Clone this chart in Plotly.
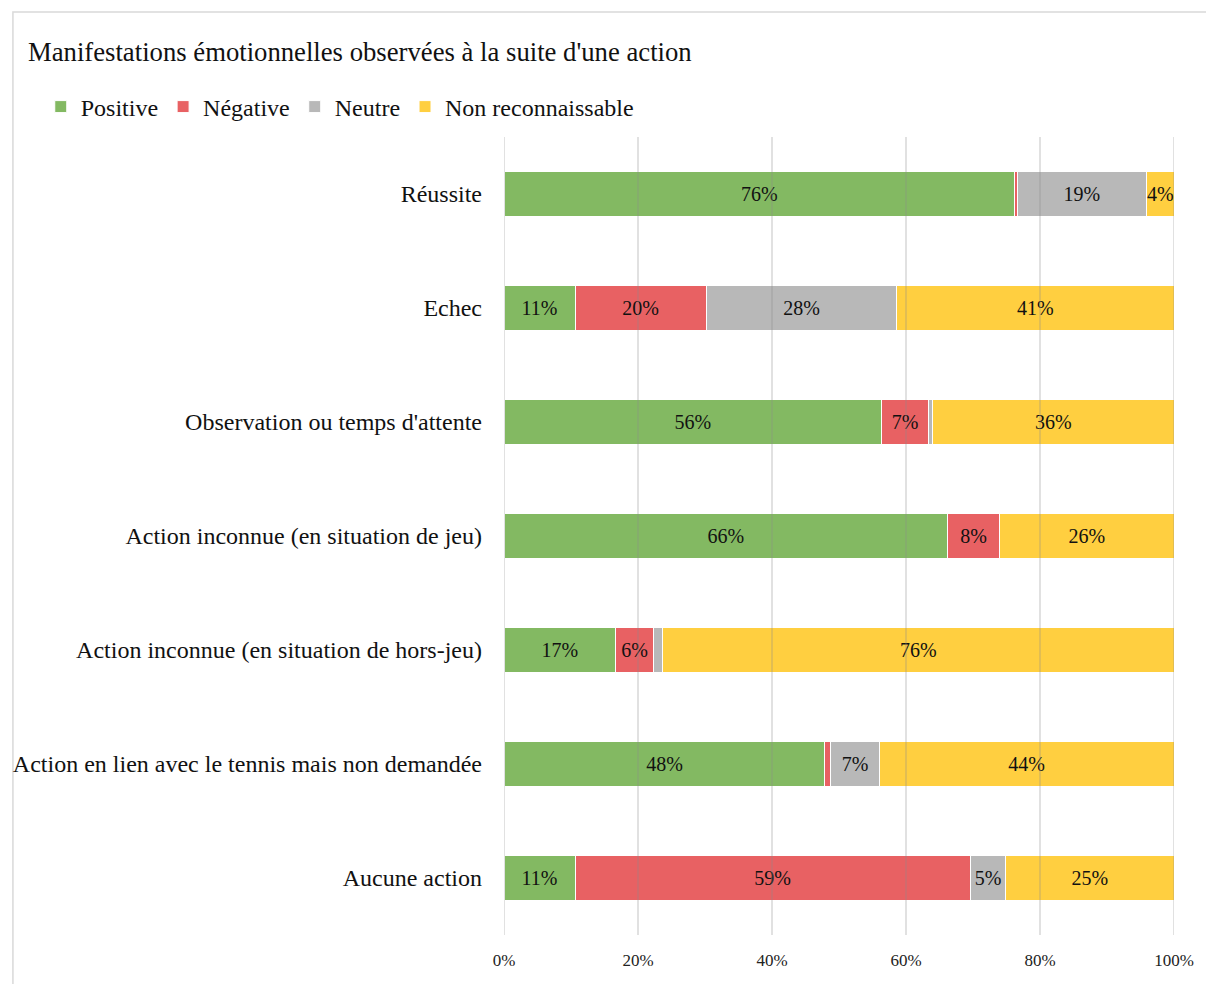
import plotly.graph_objects as go

categories = [
    "Réussite",
    "Echec",
    "Observation ou temps d'attente",
    "Action inconnue (en situation de jeu)",
    "Action inconnue (en situation de hors-jeu)",
    "Action en lien avec le tennis mais non demandée",
    "Aucune action",
]
series_names = ["Positive", "Négative", "Neutre", "Non reconnaissable"]
positive = [76.2, 10.6, 56.4, 66.2, 16.7, 47.9, 10.6]
negative = [0.4, 19.6, 6.9, 7.8, 5.6, 0.9, 59.0]
neutre = [19.3, 28.4, 0.7, 0.0, 1.4, 7.2, 5.3]
non_reconnaissable = [4.1, 41.4, 36.0, 26.0, 76.3, 44.0, 25.1]
tick_values = [0, 20, 40, 60, 80, 100]
tick_labels = ["0%", "20%", "40%", "60%", "80%", "100%"]

colors = ["#83B962", "#E86163", "#B8B8B8", "#FFCF40"]
FONT = "Liberation Serif, Times New Roman, serif"

fig = go.Figure()
for name, vals, col in zip(series_names, [positive, negative, neutre, non_reconnaissable], colors):
    texts = [f"{round(v)}%" if v >= 3 else "" for v in vals]
    fig.add_trace(go.Bar(
        y=categories, x=vals, name=name, orientation="h",
        marker=dict(color=col, line=dict(color="white", width=1)),
        text=texts, textposition="inside", insidetextanchor="middle",
        textangle=0, textfont=dict(family=FONT, size=20, color="#111111"),
        hoverinfo="skip",
    ))

# gridlines drawn above bars, as in the reference
for t in tick_values:
    fig.add_shape(type="line", xref="x", yref="paper", x0=t, x1=t, y0=0, y1=1,
                  line=dict(color="rgba(140,140,140,0.26)", width=2), layer="above")

# outer chart border
fig.add_shape(type="rect", xref="paper", yref="paper",
              x0=(10 - 504) / 674, x1=(1220 - 504) / 674,
              y0=(935 - 1000) / 798, y1=(935 - 12) / 798,
              line=dict(color="#D9D9D9", width=1.5), fillcolor="rgba(0,0,0,0)", layer="below")

fig.update_layout(
    width=1206, height=984,
    barmode="stack", bargap=0.6,
    paper_bgcolor="white", plot_bgcolor="white",
    margin=dict(l=504, r=28, t=137, b=49),
    font=dict(family=FONT, color="#111111"),
    title=dict(text="Manifestations émotionnelles observées à la suite d'une action",
               x=28 / 1206, xanchor="left", xref="container",
               y=1 - 52 / 984, yanchor="middle", yref="container",
               font=dict(family=FONT, size=26.7, color="#111111")),
    legend=dict(orientation="h", x=(38 - 504) / 674, xanchor="left",
                y=(935 - 107) / 798, yanchor="middle",
                font=dict(family=FONT, size=24, color="#111111"),
                traceorder="normal", itemclick=False),
    uniformtext=dict(minsize=20, mode="show"),
    showlegend=True,
)
fig.update_xaxes(range=[0, 100], tickmode="array", tickvals=tick_values, ticktext=tick_labels,
                 showgrid=False, zeroline=False, showline=False,
                 tickfont=dict(family=FONT, size=17, color="#222222"),
                 ticklabelstandoff=13, fixedrange=True)
fig.update_yaxes(autorange="reversed", showgrid=False, zeroline=False, showline=False,
                 tickfont=dict(family=FONT, size=24, color="#111111"),
                 ticklabelstandoff=21, fixedrange=True)

fig.write_html("out.html", config={"displayModeBar": False},
               post_script="document.body.style.margin='0px';")
